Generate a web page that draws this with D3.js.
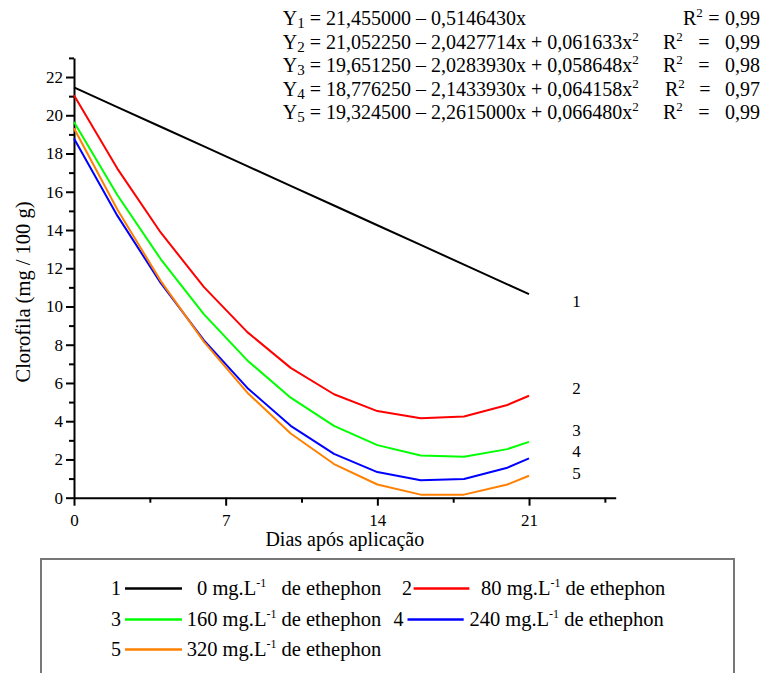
<!DOCTYPE html>
<html lang="pt">
<head>
<meta charset="UTF-8"/>
<title>Clorofila — ethephon</title>
<script src="https://d3js.org/d3.v7.min.js"></script>
<style>
    body { margin: 0; background: #fff; }
    text { font-family: "Liberation Serif", "Times New Roman", serif; fill: #000; }
    path.curve { fill: none; stroke-width: 2px; stroke-linejoin: round; }
    .axis path, .axis line { stroke: #000; stroke-width: 2px; }
    .axis text { font-size: 17px; font-family: "Liberation Serif", "Times New Roman", serif; }
</style>
</head>
<body>
<script>
// days after application (points of the fitted curves)
var days = [0, 2, 4, 6, 8, 10, 12, 14, 16, 18, 20, 21];

// clorofila values
var y1 = [21.46, 20.43, 19.40, 18.37, 17.34, 16.31, 15.28, 14.25, 13.22, 12.19, 11.16, 10.65];
var y2 = [21.05, 17.21, 13.87, 11.01, 8.66, 6.79, 5.41, 4.53, 4.15, 4.25, 4.85, 5.33];
var y3 = [19.65, 15.83, 12.48, 9.59, 7.18, 5.23, 3.76, 2.75, 2.21, 2.14, 2.54, 2.92];
var y4 = [18.78, 14.75, 11.23, 8.23, 5.74, 3.76, 2.29, 1.34, 0.91, 0.98, 1.57, 2.06];
var y5 = [19.32, 15.07, 11.34, 8.15, 5.49, 3.36, 1.76, 0.69, 0.16, 0.16, 0.69, 1.15];

var seriesNames = ["1", "2", "3", "4", "5"];
var doses = ["0", "80", "160", "240", "320"];
var colors = ["#000000", "#ff0000", "#00ff00", "#0000ff", "#ff8000"];
var allSeries = [y1, y2, y3, y4, y5];

// where the curve numbers sit (data units)
var labelX = 23;
var labelY = [10.3, 5.75, 3.55, 2.45, 1.3];

// regression equations shown at the top
var eqA = ["21,455000", "21,052250", "19,651250", "18,776250", "19,324500"];
var eqB = ["0,5146430", "2,0427714", "2,0283930", "2,1433930", "2,2615000"];
var eqC = [null, "0,061633", "0,058648", "0,064158", "0,066480"];
var r2 = ["0,99", "0,99", "0,98", "0,97", "0,99"];

var xTicks = [0, 7, 14, 21];

var W = 766, H = 673;
var svg = d3.select("body").append("svg")
    .attr("width", W)
    .attr("height", H);

var x = d3.scaleLinear().domain([0, 25]).range([74, 615.7]);
var y = d3.scaleLinear().domain([0, 23]).range([497.7, 57.9]);

// y axis, major ticks on even values
var yAxis = svg.append("g")
    .attr("class", "axis")
    .attr("transform", "translate(" + x(0) + ",0)")
    .call(d3.axisLeft(y)
        .tickValues(d3.range(0, 24))
        .tickSize(8)
        .tickSizeOuter(0)
        .tickPadding(3)
        .tickFormat(function (d) { return d % 2 === 0 ? d : ""; }));
yAxis.attr("font-family", null);
yAxis.selectAll(".tick")
    .filter(function (d) { return d % 2 !== 0; })
    .select("line").attr("x2", -5);

// x axis
var xAxis = svg.append("g")
    .attr("class", "axis")
    .attr("transform", "translate(0," + y(0) + ")")
    .call(d3.axisBottom(x)
        .tickValues(d3.range(0, 25, 3.5))
        .tickSize(8)
        .tickSizeOuter(0)
        .tickPadding(8)
        .tickFormat(function (d) { return xTicks.indexOf(d) >= 0 ? d : ""; }));
xAxis.attr("font-family", null);
xAxis.selectAll(".tick")
    .filter(function (d) { return xTicks.indexOf(d) < 0; })
    .select("line").attr("y2", 5);

// curves
var line = d3.line()
    .x(function (d, i) { return x(days[i]); })
    .y(function (d) { return y(d); });

svg.selectAll("path.curve")
    .data(allSeries)
    .enter()
    .append("path")
    .attr("class", "curve")
    .attr("stroke", function (d, i) { return colors[i]; })
    .attr("d", line);

// curve numbers
svg.selectAll("text.cl")
    .data(labelY)
    .enter()
    .append("text")
    .attr("class", "cl")
    .attr("x", x(labelX))
    .attr("y", function (d) { return y(d); })
    .attr("dy", "0.35em")
    .style("font-size", "17px")
    .text(function (d, i) { return seriesNames[i]; });

// axis titles
svg.append("text")
    .attr("x", (x(0) + x(25)) / 2)
    .attr("y", 546)
    .attr("text-anchor", "middle")
    .style("font-size", "20px")
    .text("Dias após aplicação");

svg.append("text")
    .attr("transform", "translate(30,292) rotate(-90)")
    .attr("text-anchor", "middle")
    .style("font-size", "20.5px")
    .text("Clorofila (mg / 100 g)");

// equations
var eqBase = [25, 48.5, 72, 95.5, 119];
var r2X = [683, 663, 663, 665, 663];
eqA.forEach(function (a, i) {
    var t = svg.append("text")
        .attr("x", 282.7)
        .attr("y", eqBase[i])
        .style("font-size", "20px");
    t.append("tspan").text("Y");
    t.append("tspan").attr("dy", 3).style("font-size", "15px").text(i + 1);
    var rest = " = " + a + " \u2013 " + eqB[i] + "x";
    if (eqC[i]) rest += " + " + eqC[i] + "x";
    t.append("tspan").attr("dy", -3).text(rest);
    if (eqC[i]) {
        t.append("tspan").attr("dy", -8).style("font-size", "13px").text("2");
    }

    // R², "=" and value placed so every row ends at the same right edge
    var r = svg.append("text")
        .attr("x", r2X[i])
        .attr("y", eqBase[i])
        .style("font-size", "20px");
    r.append("tspan").text("R");
    r.append("tspan").attr("dy", -8).style("font-size", "13px").text("2");
    svg.append("text")
        .attr("x", (r2X[i] + 20 + 725) / 2)
        .attr("y", eqBase[i])
        .attr("text-anchor", "middle")
        .style("font-size", "20px")
        .text("=");
    svg.append("text")
        .attr("x", 760)
        .attr("y", eqBase[i])
        .attr("text-anchor", "end")
        .style("font-size", "20px")
        .text(r2[i]);
});

// legend box
svg.append("rect")
    .attr("x", 41)
    .attr("y", 559)
    .attr("width", 693)
    .attr("height", 140)
    .attr("fill", "none")
    .attr("stroke", "#777")
    .attr("stroke-width", 2);

// legend layout: number x, line start, line end, label x, baseline
var legendPos = [
    [111, 125, 182, 197, 595],
    [402, 413.6, 469.4, 481, 595],
    [111, 125, 182, 186.7, 626],
    [393.5, 407.5, 463.7, 469.4, 626],
    [111, 125, 182, 186.7, 656]
];

legendPos.forEach(function (p, i) {
    svg.append("text")
        .attr("x", p[0]).attr("y", p[4])
        .style("font-size", "20px")
        .text(seriesNames[i]);
    svg.append("line")
        .attr("x1", p[1]).attr("x2", p[2])
        .attr("y1", p[4] - 6.5).attr("y2", p[4] - 6.5)
        .attr("stroke", colors[i])
        .attr("stroke-width", 2.5);
    var t = svg.append("text")
        .attr("x", p[3]).attr("y", p[4])
        .style("font-size", "20.5px")
        .attr("xml:space", "preserve");
    t.append("tspan").text(doses[i] + " mg.L");
    t.append("tspan").attr("dy", -8).style("font-size", "12px").text("-1");
    t.append("tspan").attr("dy", 8).text(i === 0 ? "   de ethephon" : " de ethephon");
});
</script>
</body>
</html>
